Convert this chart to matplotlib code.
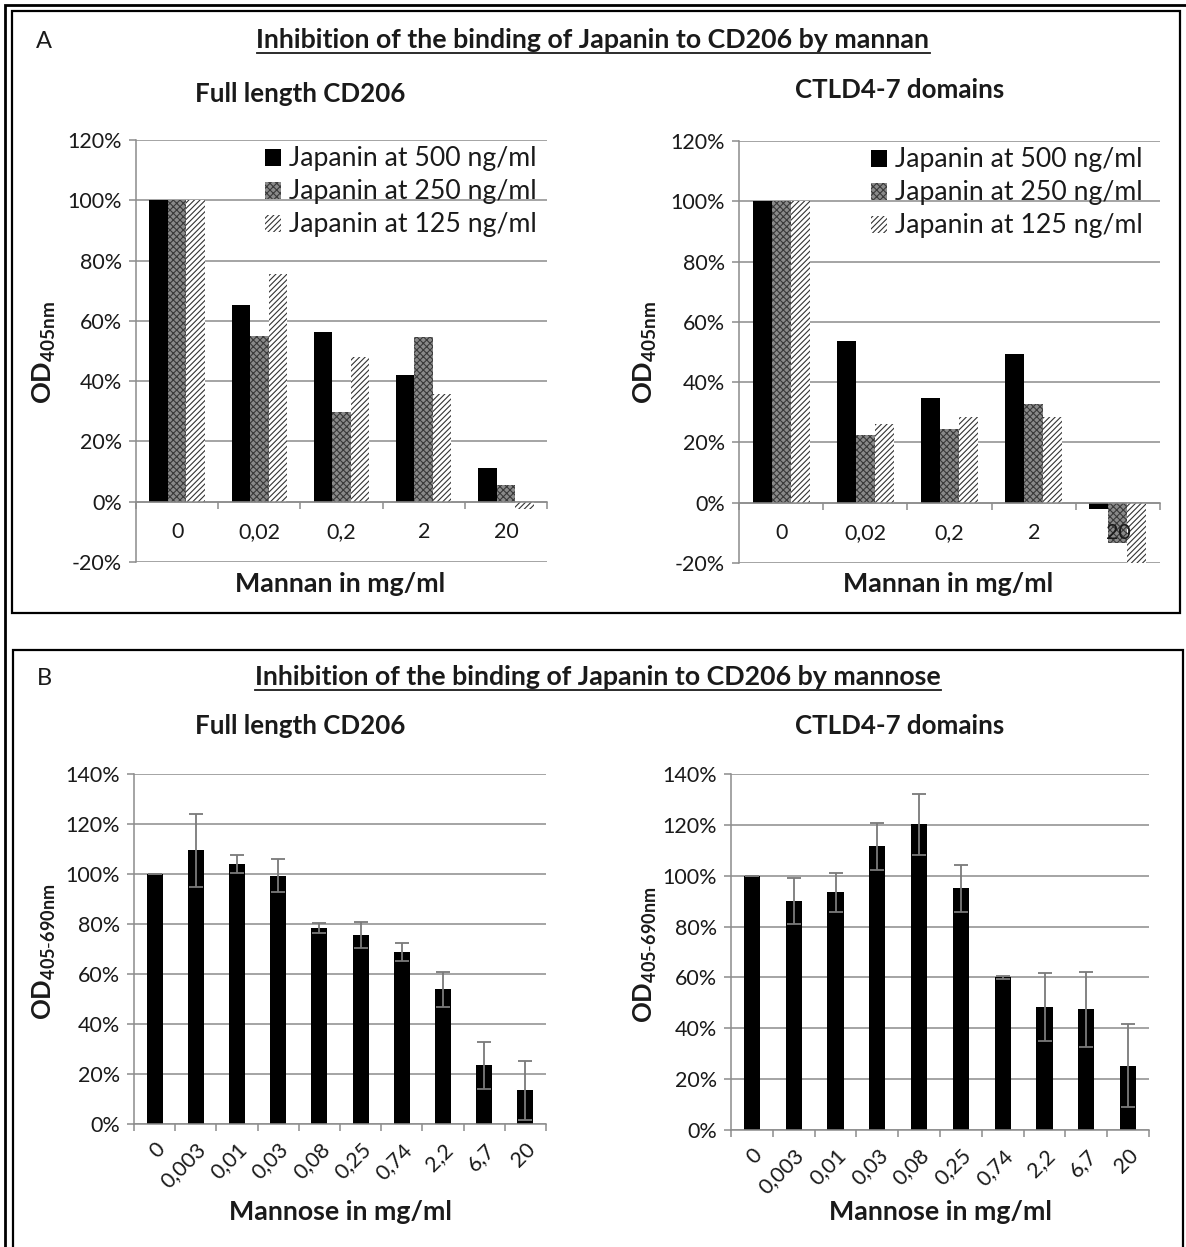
import matplotlib
matplotlib.use("Agg")
import matplotlib.pyplot as plt
import numpy as np
from matplotlib.patches import Rectangle
from matplotlib.lines import Line2D

FONT = "Lato"
plt.rcParams['font.family'] = [FONT, 'DejaVu Sans']
plt.rcParams['mathtext.fontset'] = 'custom'
plt.rcParams['mathtext.rm'] = FONT
plt.rcParams['mathtext.bf'] = FONT + ':bold'
plt.rcParams['hatch.linewidth'] = 0.8

# ---------------- data ----------------
mannan_cats = ["0", "0,02", "0,2", "2", "20"]
series_labels = ["Japanin at 500 ng/ml", "Japanin at 250 ng/ml", "Japanin at 125 ng/ml"]
full_500 = [100, 65.4, 56.3, 42.2, 11.2]
full_250 = [100, 55.0, 29.7, 54.6, 5.4]
full_125 = [100, 75.6, 48.0, 35.9, -2.5]
ctld_500 = [100, 53.5, 34.6, 49.4, -2.2]
ctld_250 = [100, 22.4, 24.6, 32.8, -13.2]
ctld_125 = [100, 26.2, 28.3, 28.3, -20.0]

mannose_cats = ["0", "0,003", "0,01", "0,03", "0,08", "0,25", "0,74", "2,2", "6,7", "20"]
mannose_full = [100, 109.6, 104.0, 99.3, 78.4, 75.7, 68.7, 54.0, 23.5, 13.5]
mannose_full_err = [0, 14.6, 3.6, 6.6, 2.0, 5.3, 3.6, 7.0, 9.5, 11.8]
mannose_ctld = [100, 90.2, 93.4, 111.5, 120.2, 95.1, 60.0, 48.3, 47.4, 25.3]
mannose_ctld_err = [0, 9.0, 7.8, 9.2, 12.1, 9.2, 0.5, 13.4, 14.8, 16.4]

W, H = 1186, 1247
fig = plt.figure(figsize=(W / 100, H / 100), dpi=100)

def ax_rect(x0, x1, ytop, ybot):
    return [x0 / W, 1 - ybot / H, (x1 - x0) / W, (ybot - ytop) / H]

GRID = '#8c8c8c'
TXT = '#1a1a1a'
TICKFS = 15.5

def style_axes(ax, ymin, ymax, step):
    ax.set_ylim(ymin, ymax)
    yt = np.arange(ymin, ymax + 0.1, step)
    ax.set_yticks(yt)
    ax.set_yticklabels([f"{int(v)}%" for v in yt], fontsize=TICKFS, color=TXT)
    ax.yaxis.grid(True, color=GRID, linewidth=1.1)
    ax.set_axisbelow(True)
    for s in ['top', 'right']:
        ax.spines[s].set_visible(False)
    ax.spines['left'].set_color(GRID)
    ax.spines['left'].set_linewidth(1.1)
    ax.spines['bottom'].set_color(GRID)
    ax.spines['bottom'].set_linewidth(1.1)
    ax.tick_params(axis='y', length=5, color=GRID, width=1.1, pad=5)

def grouped(ax, s1, s2, s3, cats, legend_anchor):
    x = np.arange(len(cats))
    bw = 0.225
    ax.bar(x - bw, s1, bw, color='black', linewidth=0, label=series_labels[0])
    ax.bar(x, s2, bw, facecolor='#8a8a8a', edgecolor='#3a3a3a', hatch='xxxxx',
           linewidth=0, label=series_labels[1])
    ax.bar(x + bw, s3, bw, facecolor='white', edgecolor='#333333', hatch='//////',
           linewidth=0, label=series_labels[2])
    style_axes(ax, -20, 120, 20)
    ax.set_xlim(-0.5, len(cats) - 0.5)
    ax.spines['bottom'].set_position(('data', 0))
    ax.set_xticks(x)
    ax.set_xticklabels([])
    for xi, c in zip(x, cats):
        ax.text(xi, -10, c, ha='center', va='center', fontsize=TICKFS, color=TXT, zorder=5)
    ax.set_xticks(np.arange(len(cats) + 1) - 0.5, minor=True)
    ax.tick_params(axis='x', which='major', length=0)
    ax.tick_params(axis='x', which='minor', length=5, color=GRID, width=1.1, direction='out')
    leg = ax.legend(loc='upper right', bbox_to_anchor=legend_anchor, frameon=False,
                    fontsize=19.2, handlelength=0.6, handleheight=0.6, handletextpad=0.3,
                    labelspacing=0.3, borderaxespad=0)
    for t in leg.get_texts():
        t.set_color(TXT)
    return ax

def single(ax, vals, errs, cats):
    x = np.arange(len(cats))
    ax.bar(x, vals, 0.39, color='black', linewidth=0)
    ax.errorbar(x, vals, yerr=errs, fmt='none', ecolor='#7a7a7a', elinewidth=1.3,
                capsize=5, capthick=1.3)
    style_axes(ax, 0, 140, 20)
    ax.set_xlim(-0.5, len(cats) - 0.5)
    ax.set_xticks(x)
    ax.set_xticklabels(cats, fontsize=TICKFS, color=TXT, rotation=45,
                       ha='right', rotation_mode='anchor')
    ax.set_xticks(np.arange(len(cats) + 1) - 0.5, minor=True)
    ax.tick_params(axis='x', which='major', length=0, pad=11)
    ax.tick_params(axis='x', which='minor', length=5, color=GRID, width=1.1, direction='out')

# ---------------- panel A ----------------
axA1 = fig.add_axes(ax_rect(136, 547, 140, 562))
grouped(axA1, full_500, full_250, full_125, mannan_cats, (1.0, 1.01))
axA2 = fig.add_axes(ax_rect(739, 1160, 141, 563))
grouped(axA2, ctld_500, ctld_250, ctld_125, mannan_cats, (0.985, 1.01))

# ---------------- panel B ----------------
axB1 = fig.add_axes(ax_rect(134, 546, 774, 1124))
single(axB1, mannose_full, mannose_full_err, mannose_cats)
axB2 = fig.add_axes(ax_rect(731, 1149, 774, 1130))
single(axB2, mannose_ctld, mannose_ctld_err, mannose_cats)

# ---------------- texts ----------------
def ftext(x, y, s, **kw):
    return fig.text(x / W, 1 - y / H, s, **kw)

BOLD = dict(fontweight='bold', color=TXT)
tA = ftext(593, 40, "Inhibition of the binding of Japanin to CD206 by mannan",
           ha='center', va='center', fontsize=19.3, **BOLD)
tB = ftext(598, 677, "Inhibition of the binding of Japanin to CD206 by mannose",
           ha='center', va='center', fontsize=19.3, **BOLD)
ftext(44, 48, "A", ha='center', va='baseline', fontsize=17, color=TXT)
ftext(44, 685, "B", ha='center', va='baseline', fontsize=17, color=TXT)

ftext(300, 94, "Full length CD206", ha='center', va='center', fontsize=18.6, **BOLD)
ftext(900, 90, "CTLD4-7 domains", ha='center', va='center', fontsize=18.6, **BOLD)
ftext(300, 726, "Full length CD206", ha='center', va='center', fontsize=18.6, **BOLD)
ftext(900, 726, "CTLD4-7 domains", ha='center', va='center', fontsize=18.6, **BOLD)

ftext(340, 584, "Mannan in mg/ml", ha='center', va='center', fontsize=19.3, **BOLD)
ftext(948, 584, "Mannan in mg/ml", ha='center', va='center', fontsize=19.3, **BOLD)
ftext(340, 1212, "Mannose in mg/ml", ha='center', va='center', fontsize=19.3, **BOLD)
ftext(940, 1212, "Mannose in mg/ml", ha='center', va='center', fontsize=19.3, **BOLD)

ftext(44, 352, r"$\mathbf{OD_{405nm}}$", ha='center', va='center', rotation=90,
      fontsize=19.5, color=TXT)
ftext(645, 352, r"$\mathbf{OD_{405nm}}$", ha='center', va='center', rotation=90,
      fontsize=19.5, color=TXT)
ftext(44, 952, r"$\mathbf{OD_{405\text{-}690nm}}$", ha='center', va='center', rotation=90,
      fontsize=18.5, color=TXT)
ftext(645, 955, r"$\mathbf{OD_{405\text{-}690nm}}$", ha='center', va='center', rotation=90,
      fontsize=18.5, color=TXT)

# ---------------- frames ----------------
def frect(x0, y0, x1, y1, lw=1.6):
    fig.add_artist(Rectangle((x0 / W, 1 - y1 / H), (x1 - x0) / W, (y1 - y0) / H,
                             transform=fig.transFigure, fill=False, edgecolor='black',
                             linewidth=lw))

frect(5, 5, 1300, 1400, lw=2)
frect(12, 11, 1180, 613)
frect(13, 650, 1183, 1300)

# underline titles
fig.canvas.draw()
r = fig.canvas.get_renderer()
for t in (tA, tB):
    bb = t.get_window_extent(r)
    y = bb.y0 - 1
    fig.add_artist(Line2D([bb.x0 / W, bb.x1 / W], [y / H, y / H], transform=fig.transFigure,
                          color=TXT, linewidth=1.3))

fig.savefig("out.png", dpi=100)
